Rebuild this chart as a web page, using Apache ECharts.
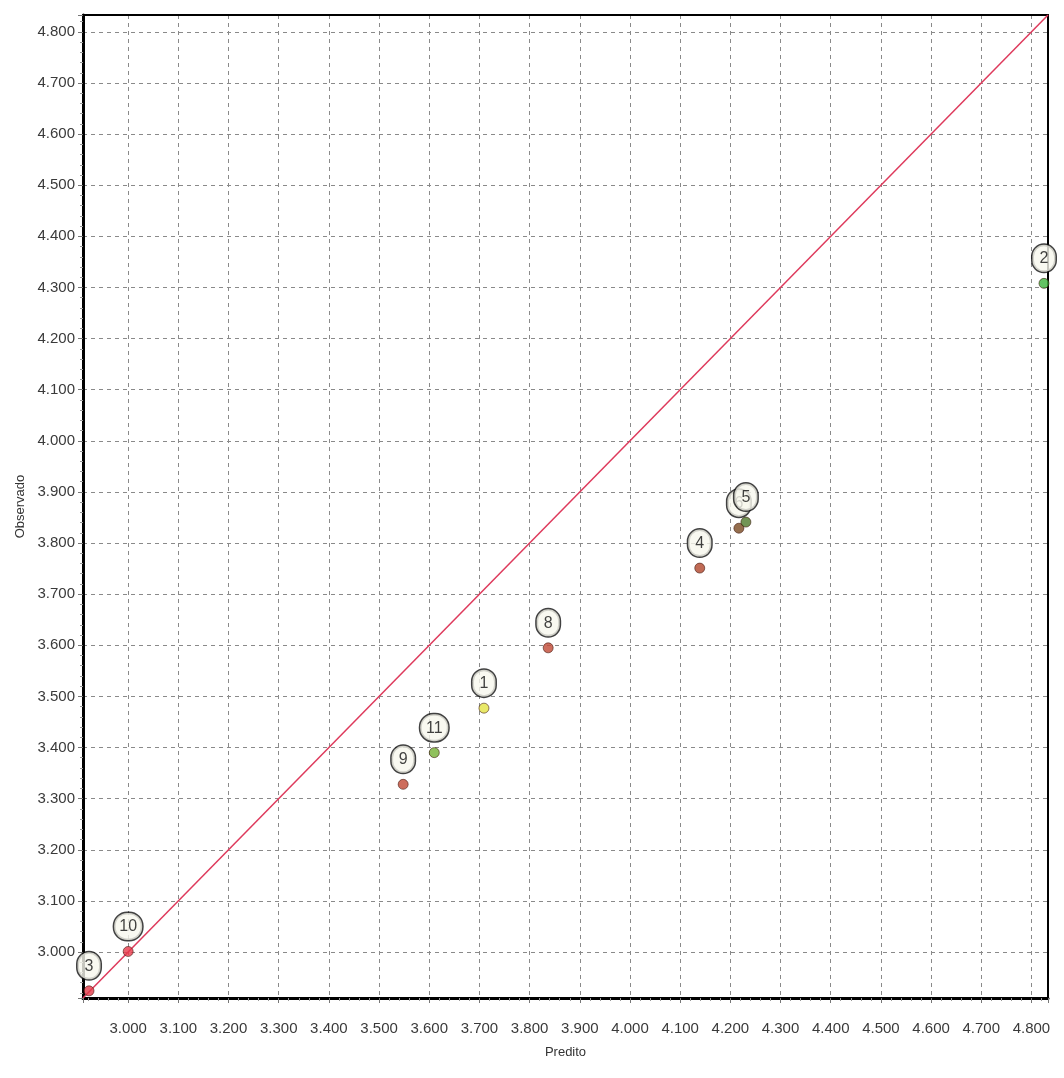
<!DOCTYPE html>
<html>
<head>
<meta charset="utf-8">
<title>Observado x Predito</title>
<script src="https://cdn.jsdelivr.net/npm/echarts@6/dist/echarts.min.js"></script>
<style>
  html, body { margin: 0; padding: 0; background: #fff; }
  #chart { width: 1064px; height: 1078px; }
</style>
</head>
<body>
<div id="chart"></div>
<script>
// axis limits (same for both axes)
var axisMin = 2.91;
var axisMax = 4.833;

// points: label, predicted (x), observed (y), colour
var pointNames = ['6', '1', '2', '3', '4', '5', '8', '9', '10', '11'];
var predito    = [4.217, 3.709, 4.825, 2.922, 4.139, 4.231, 3.837, 3.548, 3.000, 3.610];
var observado  = [3.829, 3.477, 4.308, 2.924, 3.751, 3.841, 3.595, 3.328, 3.001, 3.390];
var pointColors = ['#7a4a22', '#e4e444', '#3cb43c', '#e23a48', '#b0452a', '#4f7a2c', '#c04834', '#c04834', '#e8384a', '#74b234'];

// identity line
var lineX = [axisMin, axisMax];

var chart = echarts.init(document.getElementById('chart'));

var pts = [];
for (var i = 0; i < pointNames.length; i++) {
    pts.push({
        name: pointNames[i],
        value: [predito[i], observado[i]],
        itemStyle: { color: pointColors[i] },
        label: { width: pointNames[i].length > 1 ? 20 : 15 },
        z: i
    });
}

var tickFont = { fontFamily: 'Liberation Sans', fontSize: 15, color: '#3a3a3a' };

function axisCommon(name, gap, labelMargin) {
    return {
        type: 'value',
        min: axisMin,
        max: axisMax,
        splitNumber: 19,
        name: name,
        nameLocation: 'middle',
        nameGap: gap,
        nameTextStyle: { fontFamily: 'Liberation Sans', fontSize: 13, color: '#333' },
        axisLine: { show: true, onZero: false, lineStyle: { color: '#000', width: 3 } },
        axisTick: { show: true, length: 5, lineStyle: { color: '#777' } },
        minorTick: { show: true, splitNumber: 5, length: 3, lineStyle: { color: '#999' } },
        axisLabel: Object.assign({
            margin: labelMargin,
            showMinLabel: false,
            showMaxLabel: false,
            formatter: function (v) { return v.toFixed(3); }
        }, tickFont),
        splitLine: { show: true, lineStyle: { color: '#8a8a8a', type: [4, 4], width: 1 } }
    };
}

// plain frame lines for the top and right edges
function frameAxis(pos) {
    return {
        type: 'value',
        position: pos,
        min: axisMin,
        max: axisMax,
        axisLine: { show: true, onZero: false, lineStyle: { color: '#000', width: 2 } },
        axisTick: { show: false },
        axisLabel: { show: false },
        splitLine: { show: false }
    };
}

chart.setOption({
    animation: false,
    grid: { left: 83, right: 16, top: 15, bottom: 80 },
    xAxis: [axisCommon('Predito', 48, 23), frameAxis('top')],
    yAxis: [axisCommon('Observado', 56, 8), frameAxis('right')],
    series: [
        {
            type: 'line',
            data: [[lineX[0], lineX[0]], [lineX[1], lineX[1]]],
            symbol: 'none',
            lineStyle: { color: '#de3a5c', width: 1.5 },
            z: 2
        },
        {
            type: 'scatter',
            data: pts,
            symbol: 'circle',
            symbolSize: 10,
            itemStyle: { borderColor: 'rgba(60,20,10,0.7)', borderWidth: 1 },
            label: {
                show: true,
                position: 'top',
                distance: 6,
                formatter: '{b}',
                fontFamily: 'Liberation Sans',
                fontSize: 16,
                color: '#111',
                align: 'center',
                backgroundColor: '#f8f8ee',
                borderColor: '#111',
                borderWidth: 1.5,
                borderRadius: 13,
                padding: [6, 4, 5, 4]
            },
            z: 5
        }
    ]
});
</script>
</body>
</html>
